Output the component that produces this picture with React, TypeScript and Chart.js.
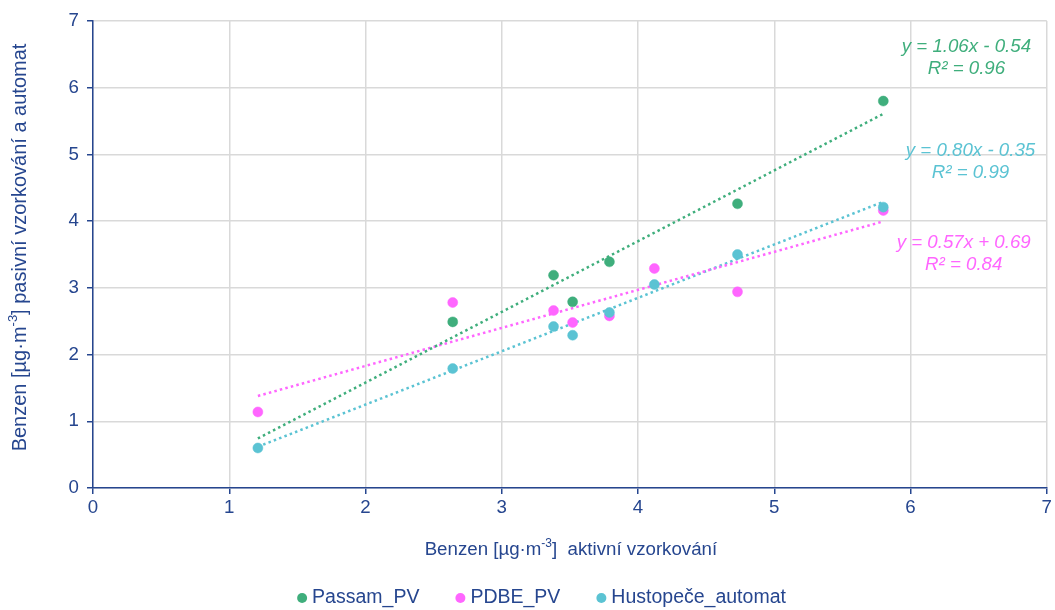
import { useEffect, useRef } from "react";
import { Chart, registerables } from "chart.js";

Chart.register(...registerables);

// Active sampling concentrations (x) shared by all series
const activeValues = [1.21, 2.64, 3.38, 3.52, 3.79, 4.12, 4.73, 5.8];
// Passive / automatic concentrations per series
const passamValues: (number | null)[] = [null, 2.49, 3.19, 2.79, 3.39, null, 4.26, 5.8];
const pdbeValues: (number | null)[] = [1.14, 2.78, 2.66, 2.48, 2.58, 3.29, 2.94, 4.16];
const hustopeceValues: (number | null)[] = [0.6, 1.79, 2.42, 2.29, 2.63, 3.05, 3.5, 4.21];

const seriesNames = ["Passam_PV", "PDBE_PV", "Hustopeče_automat"];
const seriesColors = ["#3fae7c", "#ff66ff", "#5bc3d3"];

// Linear trend coefficients and R² per series
const trendSlopes = [1.06, 0.57, 0.8];
const trendIntercepts = [-0.54, 0.69, -0.35];
const trendR2 = ["0.96", "0.84", "0.99"];
const trendEquations = ["y = 1.06x - 0.54", "y = 0.57x + 0.69", "y = 0.80x - 0.35"];

const axisTicks = [0, 1, 2, 3, 4, 5, 6, 7];

const xTitleParts = [
  { text: "Benzen [µg·m" },
  { text: "-3", sup: true },
  { text: "]  aktivní vzorkování" },
];
const yTitleParts = [
  { text: "Benzen [µg·m" },
  { text: "-3", sup: true },
  { text: "] pasivní vzorkování a automat" },
];

const NAVY = "#26468f";
const FONT = '"Liberation Sans", Arial, sans-serif';
const BASE_SIZE = 18.7;

type Part = { text: string; sup?: boolean };

function drawRich(
  ctx: CanvasRenderingContext2D,
  parts: Part[],
  cx: number,
  cy: number,
  size: number
) {
  const supSize = Math.round(size * 0.64);
  const widths = parts.map((p) => {
    ctx.font = `${p.sup ? supSize : size}px ${FONT}`;
    return ctx.measureText(p.text).width;
  });
  const total = widths.reduce((a, b) => a + b, 0);
  let x = cx - total / 2;
  ctx.textAlign = "left";
  ctx.textBaseline = "middle";
  parts.forEach((p, i) => {
    ctx.font = `${p.sup ? supSize : size}px ${FONT}`;
    ctx.fillText(p.text, x, p.sup ? cy - size * 0.32 : cy);
    x += widths[i];
  });
}

const toPoints = (ys: (number | null)[]) =>
  activeValues
    .map((x, i) => ({ x, y: ys[i] }))
    .filter((p) => p.y !== null) as { x: number; y: number }[];

const xMin = Math.min(...activeValues);
const xMax = Math.max(...activeValues);
const trendPoints = (i: number) => [
  { x: xMin, y: trendSlopes[i] * xMin + trendIntercepts[i] },
  { x: xMax, y: trendSlopes[i] * xMax + trendIntercepts[i] },
];

// Equation labels, anchored in data coordinates
const labelAnchors = [
  { x: 6.41, y: 6.62 },
  { x: 6.39, y: 3.68 },
  { x: 6.44, y: 5.06 },
];

const decorPlugin = {
  id: "decor",
  afterDatasetsDraw(chart: any) {
    const ctx: CanvasRenderingContext2D = chart.ctx;
    const { chartArea, scales } = chart;
    ctx.save();
    // trendline equations
    ctx.font = `italic ${BASE_SIZE}px ${FONT}`;
    ctx.textAlign = "center";
    ctx.textBaseline = "middle";
    labelAnchors.forEach((a, i) => {
      const px = scales.x.getPixelForValue(a.x);
      const py = scales.y.getPixelForValue(a.y);
      ctx.fillStyle = seriesColors[i];
      ctx.fillText(trendEquations[i], px, py);
      ctx.fillText(`R² = ${trendR2[i]}`, px, py + 22);
    });
    // axis titles
    ctx.fillStyle = NAVY;
    drawRich(ctx, xTitleParts, (chartArea.left + chartArea.right) / 2 + 1, 550, BASE_SIZE);
    ctx.save();
    ctx.translate(20, 247.5);
    ctx.rotate(-Math.PI / 2);
    drawRich(ctx, yTitleParts, 0, 0, 20);
    ctx.restore();
    // legend
    ctx.font = `19.5px ${FONT}`;
    const textW = seriesNames.map((n) => ctx.measureText(n).width);
    const r = 5;
    const gapText = 5;
    const gapItem = 36;
    const total =
      textW.reduce((s, w) => s + 2 * r + gapText + w, 0) + gapItem * (seriesNames.length - 1);
    let x = 541.5 - total / 2;
    const ly = 598;
    ctx.textAlign = "left";
    ctx.textBaseline = "middle";
    seriesNames.forEach((n, i) => {
      ctx.fillStyle = seriesColors[i];
      ctx.beginPath();
      ctx.arc(x + r, ly, r, 0, Math.PI * 2);
      ctx.fill();
      ctx.fillStyle = NAVY;
      ctx.fillText(n, x + 2 * r + gapText, ly);
      x += 2 * r + gapText + textW[i] + gapItem;
    });
    ctx.restore();
  },
};

export default function App() {
  const canvasRef = useRef<HTMLCanvasElement>(null);

  useEffect(() => {
    document.body.style.margin = "0";
    const canvas = canvasRef.current;
    if (!canvas) return;
    const seriesValues = [passamValues, pdbeValues, hustopeceValues];
    const pointOrder = [2, 1, 0];
    const datasets: any[] = [];
    seriesValues.forEach((vals, i) => {
      datasets.push({
        type: "scatter",
        label: seriesNames[i],
        data: toPoints(vals),
        backgroundColor: seriesColors[i],
        borderColor: seriesColors[i],
        pointRadius: 5,
        pointBorderWidth: 0.5,
        order: pointOrder[i],
      });
    });
    seriesValues.forEach((_, i) => {
      datasets.push({
        type: "line",
        label: `trend ${seriesNames[i]}`,
        data: trendPoints(i),
        borderColor: seriesColors[i],
        borderWidth: 2.5,
        borderDash: [2.5, 3.2],
        borderCapStyle: "butt",
        pointRadius: 0,
        fill: false,
        order: 5 + i,
      });
    });

    const tickFont = { family: FONT, size: BASE_SIZE };
    const chart = new Chart(canvas, {
      type: "scatter",
      data: { datasets },
      plugins: [decorPlugin],
      options: {
        animation: false,
        responsive: false,
        layout: { padding: { left: 0, right: 6, top: 21, bottom: 0 } },
        plugins: { legend: { display: false }, tooltip: { enabled: false } },
        scales: {
          x: {
            type: "linear",
            min: 0,
            max: 7,
            afterBuildTicks: (s: any) => {
              s.ticks = axisTicks.map((v) => ({ value: v }));
            },
            afterFit: (s: any) => {
              s.height = 122;
            },
            ticks: { color: NAVY, font: tickFont, padding: 3 },
            grid: { color: "#d9d9d9", lineWidth: 1.5, tickLength: 6, tickColor: NAVY, tickWidth: 1.5 },
            border: { color: NAVY, width: 1.5 },
          },
          y: {
            type: "linear",
            min: 0,
            max: 7,
            afterBuildTicks: (s: any) => {
              s.ticks = axisTicks.map((v) => ({ value: v }));
            },
            afterFit: (s: any) => {
              s.width = 93;
            },
            ticks: { color: NAVY, font: tickFont, padding: 8 },
            grid: { color: "#d9d9d9", lineWidth: 1.5, tickLength: 6, tickColor: NAVY, tickWidth: 1.5 },
            border: { color: NAVY, width: 1.5 },
          },
        },
      },
    });
    return () => chart.destroy();
  }, []);

  return (
    <div style={{ width: 1055, height: 610 }}>
      <canvas ref={canvasRef} width={1055} height={610} style={{ display: "block" }} />
    </div>
  );
}
